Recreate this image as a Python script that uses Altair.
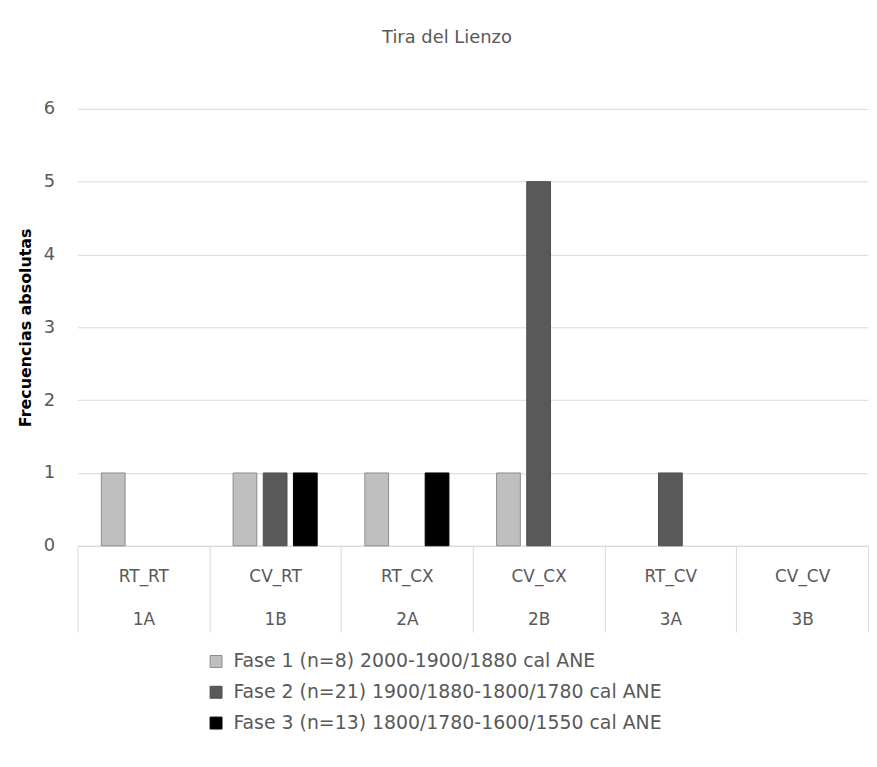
import altair as alt
import pandas as pd

codes = ["RT_RT", "CV_RT", "RT_CX", "CV_CX", "RT_CV", "CV_CV"]
groups = ["1A", "1B", "2A", "2B", "3A", "3B"]
series = [
    "Fase 1 (n=8) 2000-1900/1880 cal ANE",
    "Fase 2 (n=21) 1900/1880-1800/1780 cal ANE",
    "Fase 3 (n=13) 1800/1780-1600/1550 cal ANE",
]
fase1 = [1, 1, 1, 1, 0, 0]
fase2 = [0, 1, 0, 5, 1, 0]
fase3 = [0, 1, 1, 0, 0, 0]
y_ticks = [0, 1, 2, 3, 4, 5, 6]
colors = ["#bfbfbf", "#595959", "#000000"]
strokes = ["#8c8c8c", "#4d4d4d", "#000000"]

cats = [f"{c}|{g}" for c, g in zip(codes, groups)]
rows = []
for s, vals in zip(series, [fase1, fase2, fase3]):
    for cat, v in zip(cats, vals):
        rows.append({"cat": cat, "fase": s, "value": v})
df = pd.DataFrame(rows)

FONT = "DejaVu Sans"
GRAY = "#595959"
LINE = "#d9d9d9"

chart = (
    alt.Chart(df)
    .transform_filter("datum.value > 0")
    .mark_bar(strokeWidth=1)
    .encode(
        x=alt.X(
            "cat:N",
            sort=cats,
            scale=alt.Scale(domain=cats, paddingInner=0, paddingOuter=0),
            axis=alt.Axis(
                title=None,
                labelExpr="split(datum.label, '|')",
                labelAngle=0,
                labelFont=FONT,
                labelFontSize=17,
                labelColor=GRAY,
                labelLineHeight=43,
                labelBaseline="top",
                labelPadding=-64,
                tickBand="extent",
                tickSize=87,
                tickColor=LINE,
                domainColor=LINE,
                grid=False,
            ),
        ),
        xOffset=alt.XOffset(
            "fase:N",
            scale=alt.Scale(domain=series, paddingInner=0.213, paddingOuter=0.79),
        ),
        y=alt.Y(
            "value:Q",
            scale=alt.Scale(domain=[0, 6], nice=False),
            axis=alt.Axis(
                title="Frecuencias absolutas",
                values=y_ticks,
                format="d",
                labelFont=FONT,
                labelFontSize=18,
                labelColor=GRAY,
                labelPadding=23,
                ticks=False,
                domain=False,
                gridColor=LINE,
                titleFont=FONT,
                titleFontSize=16,
                titleFontWeight="bold",
                titleColor="#000000",
                titlePadding=10,
            ),
        ),
        color=alt.Color(
            "fase:N",
            scale=alt.Scale(domain=series, range=colors),
            legend=alt.Legend(
                title=None,
                orient="none",
                legendX=130,
                legendY=547,
                direction="vertical",
                symbolType="square",
                symbolSize=144,
                symbolStrokeColor="#8c8c8c",
                symbolStrokeWidth=1,
                labelFont=FONT,
                labelFontSize=19,
                labelColor=GRAY,
                labelOffset=8,
                rowPadding=11,
                labelLimit=600,
            ),
        ),
        stroke=alt.Stroke(
            "fase:N", scale=alt.Scale(domain=series, range=strokes), legend=None
        ),
    )
    .properties(
        width=796,
        height=440,
        title=alt.TitleParams(
            "Tira del Lienzo",
            font=FONT,
            fontSize=18,
            fontWeight="normal",
            color=GRAY,
            offset=53,
            dx=-26,
        ),
        padding={"left": 9, "top": 19, "right": 0, "bottom": 0},
    )
    .configure_view(stroke=None)
)

chart.save("out.html", embed_options={"renderer": "svg", "actions": False})
